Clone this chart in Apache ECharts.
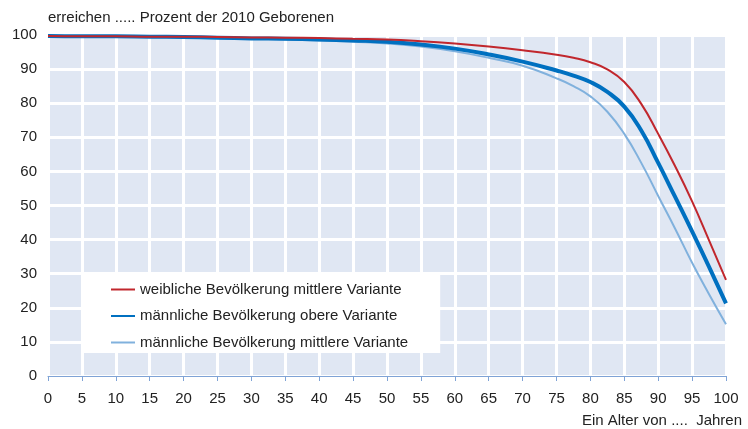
<!DOCTYPE html>
<html>
<head>
<meta charset="utf-8">
<script src="https://cdn.jsdelivr.net/npm/echarts@6/dist/echarts.min.js"></script>
<style>html,body{margin:0;padding:0;background:#fff}#c{width:748px;height:429px}</style>
</head>
<body>
<div id="c"></div>
<script>
const ages = [0,5,10,15,20,25,30,35,40,45,50,55,60,65,70,75,77.5,80,82.5,85,87.5,90,92.5,95,97.5,100];
const weiblichMittel = [99.7,99.6,99.6,99.5,99.5,99.4,99.3,99.2,99.1,98.9,98.7,98.2,97.5,96.6,95.5,94.2,93.3,92.0,89.9,86.2,79.8,71.0,61.5,51.2,39.8,28.2];
const maennlichOber = [99.7,99.6,99.6,99.5,99.4,99.2,99.0,98.9,98.7,98.4,98.0,97.2,96.0,94.3,92.2,89.6,88.1,86.2,83.3,79.0,72.0,62.5,52.5,42.4,32.0,21.3];
const maennlichMittel = [99.6,99.5,99.5,99.4,99.3,99.1,98.9,98.7,98.4,98.0,97.5,96.6,95.2,93.3,91.0,87.3,85.0,82.0,77.5,71.0,62.5,52.8,43.2,33.2,24.0,15.2];
const seriesNames = ['weibliche Bevölkerung mittlere Variante','männliche Bevölkerung obere Variante','männliche Bevölkerung mittlere Variante'];
const titleText = 'erreichen ..... Prozent der 2010 Geborenen';
const xName = 'Ein Alter von ....  Jahren';

const pair = arr => ages.map((a, i) => [a, arr[i]]);
const font = 'Liberation Sans, Arial, sans-serif';
const chart = echarts.init(document.getElementById('c'), null, {renderer: 'canvas'});
chart.setOption({
  animation: false,
  textStyle: {fontFamily: font},
  title: {text: titleText, left: 43, top: 5, textStyle: {fontSize: 15, fontWeight: 'normal', color: '#222', fontFamily: font}},
  graphic: [{type: 'text', right: 6, top: 413, style: {text: xName, fill: '#222', font: '15px ' + font}}],
  grid: {left: 48, right: 22, top: 35, bottom: 53, show: true, backgroundColor: '#e0e7f3', borderWidth: 0},
  legend: {
    orient: 'vertical', left: 82, top: 273,
    backgroundColor: '#fff', padding: [9, 32, 3, 28],
    itemWidth: 24, itemHeight: 14, itemGap: 11.5,
    itemStyle: {opacity: 0},
    textStyle: {fontSize: 15, color: '#222', fontFamily: font},
    data: seriesNames
  },
  xAxis: {
    type: 'value', min: 0, max: 100, interval: 5,
    axisLine: {lineStyle: {color: '#7fa3d6', width: 1}},
    axisTick: {show: true, length: 5, lineStyle: {color: '#7fa3d6'}},
    splitLine: {show: true, lineStyle: {color: '#fff', width: 3}},
    axisLabel: {fontSize: 15, color: '#222', margin: 15, fontFamily: font}
  },
  yAxis: {
    type: 'value', min: 0, max: 100, interval: 10,
    axisLine: {show: false}, axisTick: {show: false},
    splitLine: {show: true, lineStyle: {color: '#fff', width: 3}},
    axisLabel: {fontSize: 15, color: '#222', margin: 11, fontFamily: font}
  },
  series: [
    {name: seriesNames[2], type: 'line', data: pair(maennlichMittel), smooth: 0.5, symbol: 'none', lineStyle: {color: '#80b1dd', width: 2}, itemStyle: {color: '#80b1dd'}, z: 2},
    {name: seriesNames[1], type: 'line', data: pair(maennlichOber), smooth: 0.5, symbol: 'none', lineStyle: {color: '#0070c0', width: 4}, itemStyle: {color: '#0070c0'}, z: 3},
    {name: seriesNames[0], type: 'line', data: pair(weiblichMittel), smooth: 0.5, symbol: 'none', lineStyle: {color: '#c1272d', width: 2}, itemStyle: {color: '#c1272d'}, z: 4}
  ]
});
</script>
</body>
</html>
